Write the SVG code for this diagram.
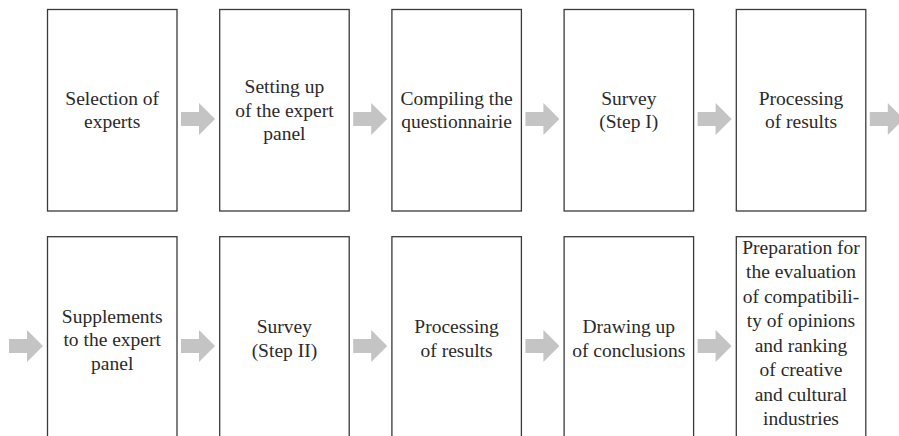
<svg xmlns="http://www.w3.org/2000/svg" width="899" height="436" viewBox="0 0 899 436">
  <style>
    .box { fill: #ffffff; stroke: #3a3a3a; stroke-width: 1.3; }
    .lbl { font-family: "Liberation Serif", "Times New Roman", serif; font-size: 19.5px; fill: #2a2a2a; text-anchor: middle; }
    .arrow { fill: #c4c4c4; stroke: none; }
  </style>
  <defs>
    <!-- block arrow, origin at its tail, vertical centre at y=0 -->
    <path id="blk" d="M0,-7 H18 V-16 L34,0 L18,16 V7 H0 Z"/>
  </defs>
  <rect x="0" y="0" width="899" height="436" fill="#ffffff"/>

  <!-- top row -->
  <g id="n1">
    <rect class="box" x="47.5" y="9.5" width="129.5" height="201.5"/>
    <text class="lbl" x="112.2" y="104.5">Selection of</text>
    <text class="lbl" x="112.2" y="128">experts</text>
  </g>
  <g id="n2">
    <rect class="box" x="219.7" y="9.5" width="129.5" height="201.5"/>
    <text class="lbl" x="284.4" y="93.3">Setting up</text>
    <text class="lbl" x="284.4" y="116.7">of the expert</text>
    <text class="lbl" x="284.4" y="140">panel</text>
  </g>
  <g id="n3">
    <rect class="box" x="391.9" y="9.5" width="129.5" height="201.5"/>
    <text class="lbl" x="456.6" y="104.5">Compiling the</text>
    <text class="lbl" x="456.6" y="128">questionnairie</text>
  </g>
  <g id="n4">
    <rect class="box" x="564.1" y="9.5" width="129.5" height="201.5"/>
    <text class="lbl" x="628.8" y="104.5">Survey</text>
    <text class="lbl" x="628.8" y="128">(Step I)</text>
  </g>
  <g id="n5">
    <rect class="box" x="736.3" y="9.5" width="129.5" height="201.5"/>
    <text class="lbl" x="801" y="104.5">Processing</text>
    <text class="lbl" x="801" y="128">of results</text>
  </g>

  <!-- bottom row (boxes run past the lower edge) -->
  <g id="n6">
    <rect class="box" x="47.5" y="236.7" width="129.5" height="210"/>
    <text class="lbl" x="112.2" y="322.5">Supplements</text>
    <text class="lbl" x="112.2" y="346">to the expert</text>
    <text class="lbl" x="112.2" y="369.5">panel</text>
  </g>
  <g id="n7">
    <rect class="box" x="219.7" y="236.7" width="129.5" height="210"/>
    <text class="lbl" x="284.4" y="333">Survey</text>
    <text class="lbl" x="284.4" y="356.5">(Step II)</text>
  </g>
  <g id="n8">
    <rect class="box" x="391.9" y="236.7" width="129.5" height="210"/>
    <text class="lbl" x="456.6" y="333">Processing</text>
    <text class="lbl" x="456.6" y="356.5">of results</text>
  </g>
  <g id="n9">
    <rect class="box" x="564.1" y="236.7" width="129.5" height="210"/>
    <text class="lbl" x="628.8" y="333">Drawing up</text>
    <text class="lbl" x="628.8" y="356.5">of conclusions</text>
  </g>
  <g id="n10">
    <rect class="box" x="736.3" y="236.7" width="129.5" height="210"/>
    <text class="lbl" x="801" y="253.5">Preparation for</text>
    <text class="lbl" x="801" y="278">the evaluation</text>
    <text class="lbl" x="801" y="302.5">of compatibili-</text>
    <text class="lbl" x="801" y="327">ty of opinions</text>
    <text class="lbl" x="801" y="351.5">and ranking</text>
    <text class="lbl" x="801" y="376">of creative</text>
    <text class="lbl" x="801" y="400.5">and cultural</text>
    <text class="lbl" x="801" y="425">industries</text>
  </g>

  <!-- connectors -->
  <g id="connectors" class="arrow">
    <use href="#blk" x="181" y="119"/>
    <use href="#blk" x="353.2" y="119"/>
    <use href="#blk" x="525.4" y="119"/>
    <use href="#blk" x="697.6" y="119"/>
    <use href="#blk" x="869.8" y="119"/>
    <use href="#blk" x="9" y="346"/>
    <use href="#blk" x="181" y="346"/>
    <use href="#blk" x="353.2" y="346"/>
    <use href="#blk" x="525.4" y="346"/>
    <use href="#blk" x="697.6" y="346"/>
  </g>
</svg>
